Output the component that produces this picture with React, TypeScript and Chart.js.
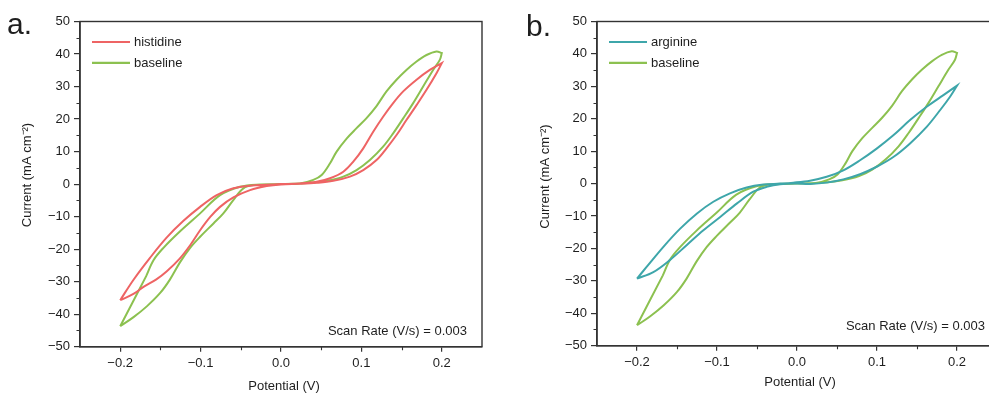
import React, { useEffect, useRef } from "react";
import { Chart, registerables } from "chart.js";

Chart.register(...registerables);

const FONT = '"Liberation Sans", Arial, Helvetica, sans-serif';

// ---- tick values ----
const xTickValues = [-0.2, -0.1, 0, 0.1, 0.2];
const yTickValues = [-50, -40, -30, -20, -10, 0, 10, 20, 30, 40, 50];
const xMinorValues = [-0.15, -0.05, 0.05, 0.15];
const yMinorValues = [-45, -35, -25, -15, -5, 5, 15, 25, 35, 45];

// ---- histidine (panel a) ----
const histidineV = [
  -0.2, -0.2, -0.183, -0.171, -0.155, -0.142, -0.126, -0.113, -0.1006, -0.088, -0.0758, -0.0592, -0.0385, -0.0178, 0,
  0.0236, 0.0443, 0.065, 0.0857, 0.1023, 0.1188, 0.1312, 0.1437, 0.156, 0.1686, 0.181, 0.1934, 0.2, 0.2,
  0.1851, 0.1686, 0.152, 0.1395, 0.127, 0.1147, 0.1023, 0.0899, 0.0775, 0.061, 0.0443, 0.0236, 0,
  -0.0178, -0.0385, -0.0592, -0.0799, -0.1006, -0.1213, -0.142, -0.1627, -0.1834, -0.2, -0.2,
];
const histidineI = [
  -35.7, -35.7, -33.7, -31.6, -29.3, -26.8, -22.9, -18.8, -14.2, -10.1, -7.0, -4.1, -1.85, -0.6, -0.1,
  0.1, 0.4, 1.0, 2.3, 4.3, 7.4, 11.0, 15.1, 19.7, 24.3, 29.0, 34.1, 37.2, 37.2,
  35.1, 32.1, 28.5, 24.9, 20.7, 16.1, 11.0, 6.9, 3.8, 1.8, 0.7, 0.2, 0,
  -0.2, -0.5, -1.3, -3.4, -7.0, -11.3, -16.4, -22.6, -29.4, -35.7, -35.7,
];

// ---- baseline (both panels) ----
const baselineV = [
  -0.2, -0.2, -0.1834, -0.1669, -0.15, -0.138, -0.1255, -0.113, -0.1006, -0.084, -0.0717, -0.0593, -0.0468, -0.0344, -0.015, 0,
  0.015, 0.0361, 0.0567, 0.0775, 0.094, 0.1106, 0.127, 0.1395, 0.152, 0.1644, 0.1768, 0.1892, 0.1975, 0.2, 0.2,
  0.1934, 0.181, 0.1686, 0.156, 0.1437, 0.1312, 0.1188, 0.1064, 0.094, 0.0816, 0.0692, 0.061, 0.0506, 0.0402, 0.0236, 0,
  -0.026, -0.0509, -0.0758, -0.1006, -0.1255, -0.1462, -0.1586, -0.1677, -0.1677, -0.2, -0.2,
];
const baselineI = [
  -43.7, -43.7, -40.9, -37.6, -33.4, -29.3, -24.0, -19.6, -16.2, -12.1, -9.0, -4.9, -1.3, -0.3, -0.1, 0,
  0.1, 0.4, 1.0, 2.3, 4.3, 7.4, 11.5, 15.6, 20.2, 24.9, 30.0, 35.1, 38.2, 40.3, 40.3,
  40.8, 39.7, 37.7, 35.1, 32.1, 28.5, 24.0, 20.3, 17.2, 14.0, 10.0, 6.4, 2.8, 1.3, 0.2, 0,
  -0.1, -0.8, -3.4, -9.0, -14.5, -19.6, -23.4, -28.3, -28.3, -43.7, -43.7,
];

// ---- arginine (panel b) ----
const arginineV = [
  -0.2, -0.2, -0.1796, -0.159, -0.138, -0.117, -0.096, -0.075, -0.0546, -0.038, -0.021, 0,
  0.0163, 0.0371, 0.0579, 0.0788, 0.0996, 0.1204, 0.1413, 0.1621, 0.179, 0.1913, 0.2, 0.2,
  0.183, 0.1621, 0.1413, 0.1204, 0.0996, 0.0788, 0.0579, 0.0371, 0.0163, -0.0046,
  -0.021, -0.042, -0.0629, -0.0838, -0.1046, -0.125, -0.146, -0.167, -0.188, -0.2, -0.2,
];
const arginineI = [
  -29.3, -29.3, -27.3, -23.6, -19.0, -14.4, -10.3, -6.1, -2.5, -1.0, -0.2, 0,
  -0.1, 0.3, 1.3, 2.9, 5.2, 8.2, 12.4, 17.5, 22.7, 26.8, 30.2, 30.2,
  27.3, 23.7, 19.6, 14.9, 10.8, 7.2, 4.1, 2.1, 0.9, 0.3,
  0.0, -0.3, -1.2, -3.0, -5.6, -9.2, -13.9, -19.5, -25.7, -29.3, -29.3,
];

const RED = "#EE6464";
const GREEN = "#8CC150";
const TEAL = "#3EA6AA";
const AXIS = "#333333";
const TEXT = "#1e1e1e";

const fmtNum = (v: number, digits: number) => {
  const s = Math.abs(v).toFixed(digits);
  return v < 0 ? "\u2212" + s : s;
};

function pts(v: number[], i: number[]) {
  return v.map((x, k) => ({ x, y: i[k] }));
}

type Series = { label: string; color: string; v: number[]; i: number[] };

type PanelProps = {
  left: number;
  width: number;
  yAxisWidth: number;
  padRight: number;
  xAxisHeight: number;
  letter: string;
  letterX: number;
  letterY: number;
  series: Series[];
  xTitleY: number;
  yTitleX: number;
  yTitleY: number;
  scanRight: number;
  scanY: number;
};

function Panel(p: PanelProps) {
  const ref = useRef<HTMLCanvasElement | null>(null);

  useEffect(() => {
    if (!ref.current) return;
    const deco = {
      id: "deco",
      afterDraw(chart: any) {
        const { ctx, chartArea: ca } = chart;
        const xs = chart.scales.x;
        const ys = chart.scales.y;
        ctx.save();
        // frame
        ctx.strokeStyle = AXIS;
        ctx.lineWidth = 1.4;
        ctx.strokeRect(ca.left, ca.top, ca.right - ca.left, ca.bottom - ca.top);
        // minor ticks
        ctx.lineWidth = 1.1;
        ctx.beginPath();
        xMinorValues.forEach((v) => {
          const px = Math.round(xs.getPixelForValue(v)) + 0.5;
          ctx.moveTo(px, ca.bottom);
          ctx.lineTo(px, ca.bottom + 3.5);
        });
        yMinorValues.forEach((v) => {
          const py = Math.round(ys.getPixelForValue(v)) + 0.5;
          ctx.moveTo(ca.left - 3.5, py);
          ctx.lineTo(ca.left, py);
        });
        ctx.stroke();

        // legend
        ctx.font = `13px ${FONT}`;
        ctx.textBaseline = "middle";
        ctx.textAlign = "left";
        p.series.forEach((s, k) => {
          const y = 42 + k * 20.8;
          ctx.strokeStyle = s.color;
          ctx.lineWidth = 2.2;
          ctx.beginPath();
          ctx.moveTo(ca.left + 12, y);
          ctx.lineTo(ca.left + 50, y);
          ctx.stroke();
          ctx.fillStyle = TEXT;
          ctx.fillText(s.label, ca.left + 54, y + 0.5);
        });

        // scan rate
        ctx.textAlign = "right";
        ctx.fillText("Scan Rate (V/s) = 0.003", p.scanRight, p.scanY);

        // x title
        ctx.textAlign = "center";
        ctx.fillText("Potential (V)", (ca.left + ca.right) / 2 + 3, p.xTitleY);

        // y title
        ctx.save();
        ctx.translate(p.yTitleX, p.yTitleY);
        ctx.rotate(-Math.PI / 2);
        ctx.fillText("Current (mA cm\u207B\u00B2)", 0, 0);
        ctx.restore();

        // panel letter
        ctx.font = `30px ${FONT}`;
        ctx.textAlign = "left";
        ctx.textBaseline = "alphabetic";
        ctx.fillText(p.letter, p.letterX, p.letterY);
        ctx.restore();
      },
    };

    const chart = new Chart(ref.current, {
      type: "scatter",
      data: {
        datasets: p.series.map((s) => ({
          label: s.label,
          data: pts(s.v, s.i),
          showLine: true,
          borderColor: s.color,
          backgroundColor: s.color,
          borderWidth: 2,
          pointRadius: 0,
          pointHoverRadius: 0,
          tension: 0.35,
          fill: false,
        })),
      },
      options: {
        animation: false,
        responsive: false,
        maintainAspectRatio: false,
        events: [],
        layout: { padding: { left: 0, top: 21.5, right: p.padRight, bottom: 0 } },
        plugins: { legend: { display: false }, tooltip: { enabled: false }, title: { display: false } },
        scales: {
          x: {
            type: "linear",
            min: -0.25,
            max: 0.25,
            afterBuildTicks: (scale: any) => {
              scale.ticks = xTickValues.map((value) => ({ value }));
            },
            afterFit: (scale: any) => {
              scale.height = p.xAxisHeight;
            },
            grid: { drawOnChartArea: false, drawTicks: true, tickLength: 5, color: AXIS, lineWidth: 1.2 },
            border: { display: true, color: AXIS, width: 1.5 },
            ticks: {
              color: TEXT,
              font: { family: FONT, size: 13 },
              padding: 4,
              maxRotation: 0,
              autoSkip: false,
              callback: (v: any) => fmtNum(Number(v), 1),
            },
          },
          y: {
            type: "linear",
            min: -50,
            max: 50,
            afterBuildTicks: (scale: any) => {
              scale.ticks = yTickValues.map((value) => ({ value }));
            },
            afterFit: (scale: any) => {
              scale.width = p.yAxisWidth;
            },
            grid: { drawOnChartArea: false, drawTicks: true, tickLength: 6, color: AXIS, lineWidth: 1.2 },
            border: { display: true, color: AXIS, width: 1.5 },
            ticks: {
              color: TEXT,
              font: { family: FONT, size: 13 },
              padding: 4,
              autoSkip: false,
              callback: (v: any) => fmtNum(Number(v), 0),
            },
          },
        },
      },
      plugins: [deco],
    } as any);
    return () => chart.destroy();
  }, []);

  return (
    <canvas
      ref={ref}
      width={p.width}
      height={394}
      style={{ position: "absolute", left: p.left, top: 0, width: p.width, height: 394 }}
    />
  );
}

export default function App() {
  return (
    <div
      style={{
        position: "absolute",
        left: 0,
        top: 0,
        width: 989,
        height: 394,
        overflow: "hidden",
        background: "#ffffff",
      }}
    >
      <Panel
        left={0}
        width={494}
        yAxisWidth={80}
        padRight={12}
        xAxisHeight={47.3}
        letter="a."
        letterX={7}
        letterY={34}
        series={[
          { label: "histidine", color: RED, v: histidineV, i: histidineI },
          { label: "baseline", color: GREEN, v: baselineV, i: baselineI },
        ]}
        xTitleY={386}
        yTitleX={27.5}
        yTitleY={175}
        scanRight={467}
        scanY={331}
      />
      <Panel
        left={500}
        width={512}
        yAxisWidth={97}
        padRight={15}
        xAxisHeight={48.3}
        letter="b."
        letterX={26}
        letterY={35.5}
        series={[
          { label: "arginine", color: TEAL, v: arginineV, i: arginineI },
          { label: "baseline", color: GREEN, v: baselineV, i: baselineI },
        ]}
        xTitleY={382}
        yTitleX={45.5}
        yTitleY={176.5}
        scanRight={485}
        scanY={326}
      />
    </div>
  );
}
